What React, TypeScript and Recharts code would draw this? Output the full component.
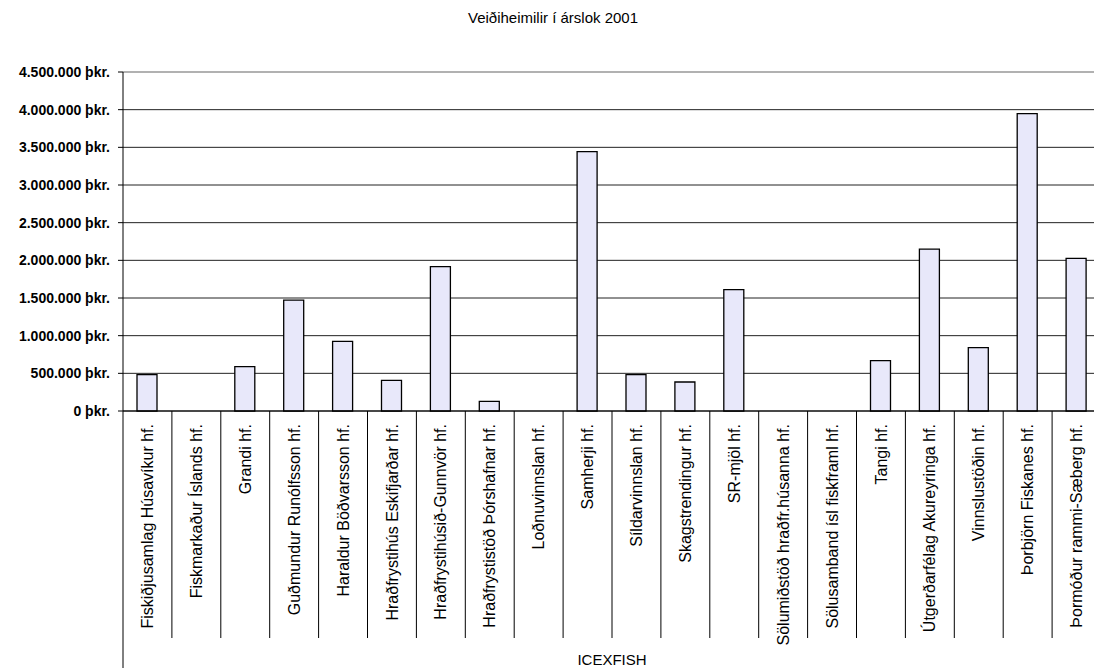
import React from "react";
import { BarChart, Bar, XAxis, YAxis, CartesianGrid, ReferenceLine } from "recharts";

const companies = [
  "Fiskiðjusamlag Húsavíkur hf.",
  "Fiskmarkaður Íslands hf.",
  "Grandi hf.",
  "Guðmundur Runólfsson hf.",
  "Haraldur Böðvarsson hf.",
  "Hraðfrystihús Eskifjarðar hf.",
  "Hraðfrystihúsið-Gunnvör hf.",
  "Hraðfrystistöð Þórshafnar hf.",
  "Loðnuvinnslan hf.",
  "Samherji hf.",
  "Síldarvinnslan hf.",
  "Skagstrendingur hf.",
  "SR-mjöl hf.",
  "Sölumiðstöð hraðfr.húsanna hf.",
  "Sölusamband ísl fiskframl hf.",
  "Tangi hf.",
  "Útgerðarfélag Akureyringa hf.",
  "Vinnslustöðin hf.",
  "Þorbjörn Fiskanes hf.",
  "Þormóður rammi-Sæberg hf.",
];

// þús. kr.
const quotaValues = [
  483000, 0, 589000, 1473000, 925000, 407000, 1917000, 129000, 0, 3443000,
  483000, 385000, 1611000, 0, 0, 669000, 2150000, 842000, 3948000, 2027000,
];

const yTicks = [0, 500000, 1000000, 1500000, 2000000, 2500000, 3000000, 3500000, 4000000, 4500000];

const groupLabel = "ICEXFISH";
const title = "Veiðiheimilir í árslok 2001";

const data = companies.map((name, i) => ({ name, value: quotaValues[i] }));

const CHART_W = 1101;
const CHART_H = 668;
const Y_AXIS_W = 123;
const BAND = (CHART_W - Y_AXIS_W) / companies.length;
const SEP_BOTTOM = 638;

const fmt = (v: number) => String(v).replace(/\B(?=(\d{3})+(?!\d))/g, ".") + " þkr.";

function CategoryTick(props: any) {
  const { x, y, payload, index } = props;
  const half = BAND / 2;
  const ty = y + 13;
  return (
    <g>
      <line x1={x + half} y1={y} x2={x + half} y2={SEP_BOTTOM} stroke="#000" strokeWidth={1} />
      {index === 0 && <line x1={x - half} y1={y} x2={x - half} y2={CHART_H} stroke="#000" strokeWidth={1} />}
      <text
        x={x}
        y={ty}
        transform={`rotate(-90, ${x}, ${ty})`}
        textAnchor="end"
        dy="0.35em"
        fontSize={16}
        fill="#000"
      >
        {payload.value}
      </text>
    </g>
  );
}

export default function App() {
  return (
    <div
      style={{
        position: "absolute",
        left: 0,
        top: 0,
        width: 1094,
        height: 668,
        overflow: "hidden",
        background: "#fff",
        fontFamily: '"Liberation Sans", Arial, sans-serif',
      }}
    >
      <div
        style={{
          position: "absolute",
          left: 0,
          top: 9,
          width: 1106,
          textAlign: "center",
          fontSize: 15,
          color: "#000",
        }}
      >
        {title}
      </div>
      <BarChart
        width={CHART_W}
        height={CHART_H}
        data={data}
        margin={{ top: 72, right: 0, left: 0, bottom: 0 }}
        barSize={20}
      >
        <CartesianGrid vertical={false} stroke="#222" strokeWidth={1} />
        <ReferenceLine y={4500000} stroke="#bdbdbd" strokeWidth={1.5} />
        <XAxis
          dataKey="name"
          interval={0}
          height={CHART_H - 72 - 339}
          tickSize={0}
          tickMargin={0}
          tickLine={false}
          axisLine={{ stroke: "#000" }}
          tick={<CategoryTick />}
          label={{ value: groupLabel, position: "insideBottom", offset: 3, fill: "#000", fontSize: 15 }}
        />
        <YAxis
          width={Y_AXIS_W}
          domain={[0, 4500000]}
          ticks={yTicks}
          tickFormatter={fmt}
          tickSize={5}
          tickMargin={8}
          axisLine={{ stroke: "#000" }}
          tickLine={{ stroke: "#000" }}
          tick={{ fill: "#000", fontSize: 14, fontWeight: "bold" }}
          interval={0}
        />
        <Bar dataKey="value" fill="#e8e8fa" stroke="#000" strokeWidth={1.3} isAnimationActive={false} />
      </BarChart>
    </div>
  );
}
